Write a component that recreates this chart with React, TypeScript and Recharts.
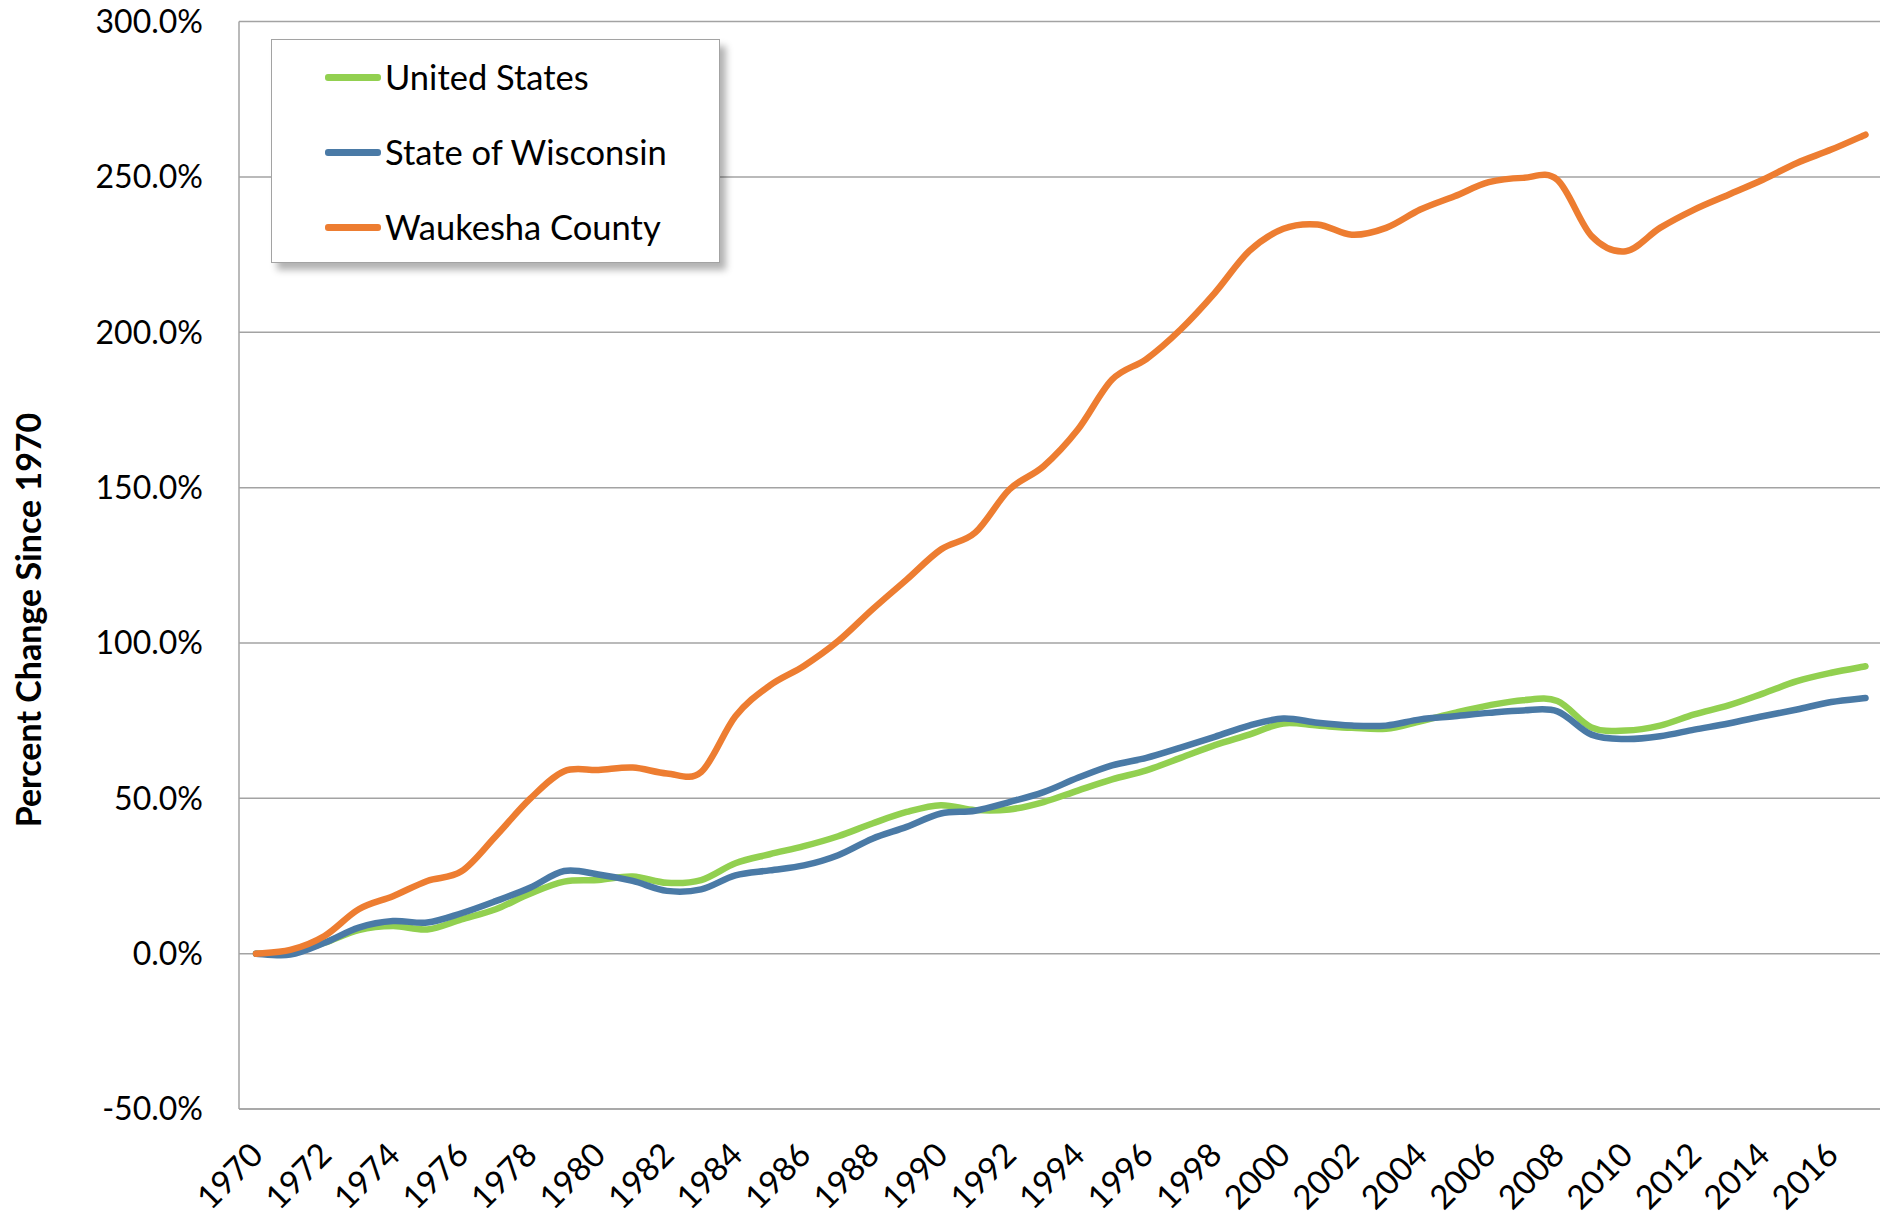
import { LineChart, Line, XAxis, YAxis, CartesianGrid, Legend, Label } from 'recharts'

const years = ['1970','1971','1972','1973','1974','1975','1976','1977','1978','1979','1980','1981','1982','1983','1984','1985','1986','1987','1988','1989','1990','1991','1992','1993','1994','1995','1996','1997','1998','1999','2000','2001','2002','2003','2004','2005','2006','2007','2008','2009','2010','2011','2012','2013','2014','2015','2016','2017']
const unitedStates = [0,0.3,3.5,7.6,8.9,7.8,11.0,14.3,19.3,23.2,23.7,24.8,22.8,23.7,29.1,32.0,34.6,37.8,41.9,45.6,47.8,46.2,46.4,48.8,52.5,56.1,59.0,63.0,67.1,70.5,74.1,73.4,72.7,72.4,74.8,77.5,79.9,81.6,81.3,72.8,71.8,73.4,77.0,79.9,83.7,87.7,90.4,92.5]
const wisconsin = [0,-0.3,3.5,8.4,10.5,10.0,13.0,16.9,21.2,26.6,25.5,23.4,20.2,20.7,25.2,26.8,28.4,31.7,37.0,40.8,45.1,46.0,48.8,52.0,56.6,60.6,63.0,66.3,69.8,73.4,75.7,74.3,73.4,73.4,75.4,76.4,77.5,78.3,78.0,70.5,69.1,70.0,72.1,74.1,76.4,78.6,81.0,82.3]
const waukesha = [0,1.2,5.7,14.3,18.5,23.4,26.5,37.8,49.8,58.7,59.1,59.9,58.0,58.5,76.4,86.3,92.6,100.6,110.8,120.4,130.1,135.5,149.4,156.9,168.7,184.8,191.4,200.9,212.7,226.1,233.3,234.7,231.4,233.6,239.5,243.8,248.3,249.7,249.1,231.0,226.1,233.6,239.5,244.3,249.1,254.5,258.8,263.6]
const yTicks = [-50,0,50,100,150,200,250,300]

const series = [
  { key: 'United States', values: unitedStates, color: '#92D050' },
  { key: 'State of Wisconsin', values: wisconsin, color: '#4A7AA6' },
  { key: 'Waukesha County', values: waukesha, color: '#ED7D31' },
]

const data = years.map((y, i) => ({
  year: y,
  'United States': unitedStates[i],
  'State of Wisconsin': wisconsin[i],
  'Waukesha County': waukesha[i],
}))

const FONT = 'Lato, "Open Sans", sans-serif'
const GRID = '#A3A3A3'

// excel style smoothing (catmull-rom through every point)
function excelCurve(ctx: any) {
  let pts: number[][] = []
  return {
    areaStart() {}, areaEnd() {},
    lineStart() { pts = [] },
    point(x: number, y: number) { pts.push([+x, +y]) },
    lineEnd() {
      if (!pts.length) return
      ctx.moveTo(pts[0][0], pts[0][1])
      for (let i = 0; i < pts.length - 1; i++) {
        const p0 = pts[i-1] || pts[i], p1 = pts[i], p2 = pts[i+1], p3 = pts[i+2] || p2
        ctx.bezierCurveTo(
          p1[0] + (p2[0]-p0[0])/6, p1[1] + (p2[1]-p0[1])/6,
          p2[0] - (p3[0]-p1[0])/6, p2[1] - (p3[1]-p1[1])/6,
          p2[0], p2[1])
      }
    },
  }
}

function YearTick({ x, y, payload }: any) {
  const ax = x + 9, ay = y + 48
  return (
    <text x={ax} y={ay} textAnchor="end" transform={`rotate(-45 ${ax} ${ay})`}
      style={{fontFamily:FONT,fontSize:33,fill:'#000'}}>{payload.value}</text>
  )
}

function LegendBox() {
  return (
    <div style={{width:449,height:224,boxSizing:'border-box',background:'#fff',border:`1.5px solid ${GRID}`,boxShadow:'6px 7px 7px rgba(0,0,0,0.3)',fontFamily:FONT}}>
      {series.map(s => (
        <div key={s.key} style={{height:75,display:'flex',alignItems:'center'}}>
          <div style={{marginLeft:53,width:56,height:6.5,borderRadius:3,background:s.color}}/>
          <span style={{marginLeft:4,fontSize:34.5,color:'#000',lineHeight:1}}>{s.key}</span>
        </div>
      ))}
    </div>
  )
}

export default function App() {
  return (
    <div style={{position:'absolute',left:0,top:0,width:1880,height:1215,background:'#fff'}}>
      <LineChart width={1880} height={1215} data={data} margin={{top:21.6,right:0,bottom:0,left:0}}>
        <CartesianGrid horizontal vertical={false} stroke={GRID} strokeWidth={1.5}/>
        <XAxis dataKey="year" interval={1} height={106} padding={{left:17,right:14.5}}
          axisLine={{stroke:GRID,strokeWidth:1.5}} tickLine={false} tickSize={0} tickMargin={0} tick={<YearTick/>}/>
        <YAxis domain={[-50,300]} ticks={yTicks} width={239} interval={0}
          tickFormatter={(v: number) => `${v.toFixed(1)}%`}
          axisLine={{stroke:GRID,strokeWidth:1.5}} tickLine={false} tickSize={0} tickMargin={36}
          tick={{fontFamily:FONT,fontSize:32,fill:'#000'}}>
          <Label content={() => (
            <text x={41} y={620} textAnchor="middle" transform="rotate(-90 41 620)"
              style={{fontFamily:FONT,fontSize:34,fontWeight:700,fill:'#000'}}>Percent Change Since 1970</text>
          )}/>
        </YAxis>
        <Legend layout="vertical" align="center" verticalAlign="middle" content={<LegendBox/>}
          wrapperStyle={{left:271,top:39,width:449,height:224}}/>
        {series.map(s => (
          <Line key={s.key} dataKey={s.key} stroke={s.color} strokeWidth={6.5} type={excelCurve as any}
            dot={false} activeDot={false} strokeLinecap="round" isAnimationActive={false}/>
        ))}
      </LineChart>
    </div>
  )
}
